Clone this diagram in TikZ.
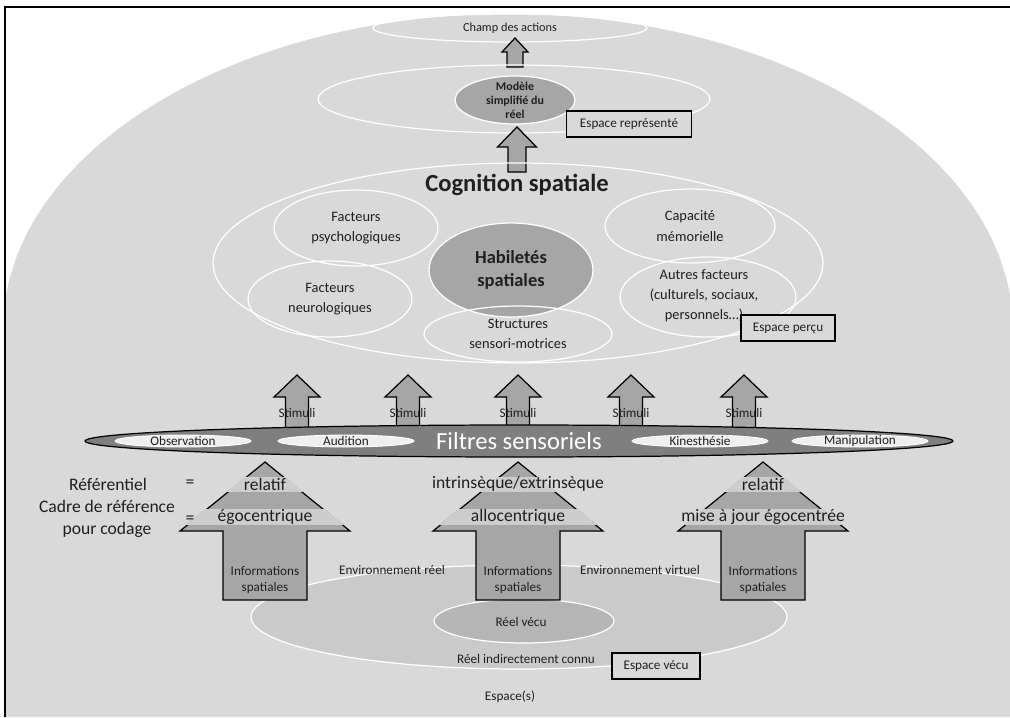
\documentclass[tikz,border=0pt]{standalone}
\usepackage{fontspec}
\setmainfont{Carlito}
\usetikzlibrary{shapes.geometric}
\definecolor{bgg}{HTML}{D9D9D9}
\definecolor{midg}{HTML}{A6A6A6}
\definecolor{darkg}{HTML}{7F7F7F}
\definecolor{bandg}{HTML}{CDCDCD}
\definecolor{ringa}{HTML}{CACACA}
\definecolor{ringb}{HTML}{B5B5B5}
\definecolor{txtc}{HTML}{1F1F1F}
\definecolor{pale}{HTML}{EFEFEF}
\newcommand\myarrow[8]{\coordinate (#1) at (#3,#4);
 \path[#2] (#3,#4) -- ({#3+#7},#5) -- ({#3+#8},#5) -- ({#3+#8},#6) -- ({#3-#8},#6) -- ({#3-#8},#5) -- ({#3-#7},#5) -- cycle;}
\begin{document}
\begin{tikzpicture}[x=0.02cm,y=-0.02cm,
  ell/.style={ellipse, draw=white, line width=0.7pt, inner sep=0pt},
  tx/.style={inner sep=0pt, align=center, text=txtc},
  sm/.style={tx, font=\fontsize{7.5}{9}\selectfont},
  md/.style={tx, font=\fontsize{8.2}{11.5}\selectfont},
  lg/.style={tx, font=\fontsize{10}{12.5}\selectfont},
  boxst/.style={draw=black, line width=0.7pt, fill=bgg, inner sep=0pt, text=txtc, font=\fontsize{7.5}{9}\selectfont},
  arrowst/.style={draw=black, line width=0.7pt, fill=midg}]
\useasboundingbox (0,0) rectangle (1010,717);
% background dome
\begin{scope}
\clip (5,7) rectangle (1010,717);
\fill[bgg] (508,330) ellipse [x radius=505, y radius=316];
\fill[bgg] (5,330) rectangle (1010,717);
\end{scope}
% top
\node[ell, minimum width=5.48cm, minimum height=0.56cm] (champ) at (510,28) {};
\node[sm, font=\fontsize{7}{8}\selectfont] (champT) at (champ.center) {Champ des actions};
\myarrow{a0}{arrowst}{515}{38}{52}{67}{13}{8}
\node[ell, minimum width=7.84cm, minimum height=1.36cm] (repr) at (514,99) {};
\node[ell, fill=midg, minimum width=2.4cm, minimum height=0.96cm] (model) at (515,100) {};
\node[tx, font=\bfseries\fontsize{6.8}{7.9}\selectfont] (modelT) at (model.center) {Modèle\\simplifié du\\réel};
\node[boxst, minimum width=2.5cm, minimum height=0.52cm] (esprep) at (629,124) {Espace représenté};
\myarrow{a1}{arrowst}{517}{127}{147}{172}{19.5}{9}
% cognition
\node[ell, minimum width=12.2cm, minimum height=4.0cm] (cog) at (518,263) {};
\node[tx, font=\bfseries\fontsize{14}{16}\selectfont] (cogT) at (517,185) {Cognition spatiale};
\node[ell, minimum width=3.28cm, minimum height=1.52cm] (psy) at (356,228) {};
\node[md] (psyT) at (psy.center) {Facteurs\\psychologiques};
\node[ell, minimum width=3.4cm, minimum height=1.48cm] (mem) at (690,226) {};
\node[md] (memT) at (mem.center) {Capacité\\mémorielle};
\node[ell, fill=midg, minimum width=3.28cm, minimum height=1.88cm] (hab) at (511,270) {};
\node[tx, font=\bfseries\fontsize{10.5}{13.6}\selectfont] (habT) at (hab.center) {Habiletés\\spatiales};
\node[ell, minimum width=3.28cm, minimum height=1.52cm] (neuro) at (330,299) {};
\node[md] (neuroT) at (neuro.center) {Facteurs\\neurologiques};
\node[ell, minimum width=3.52cm, minimum height=1.6cm] (autres) at (708,297) {};
\node[md] (autresT) at (704,296) {Autres facteurs\\(culturels, sociaux,\\personnels…)};
\node[ell, minimum width=3.76cm, minimum height=1.12cm] (struct) at (518,334) {};
\node[md] (structT) at (struct.center) {Structures\\sensori-motrices};
\node[boxst, minimum width=1.88cm, minimum height=0.52cm] (espper) at (788,328) {Espace perçu};
% stimuli arrows
\foreach \i/\c in {1/297,2/408,3/518,4/631,5/744}{
  \myarrow{s\i}{arrowst}{\c}{375}{397}{432}{23}{11.5}
  \node[sm] (st\i) at (\c,413) {Stimuli};
}
% filter band
\node[ellipse, draw=black, line width=0.7pt, fill=darkg, inner sep=0pt, minimum width=17.36cm, minimum height=0.64cm] (filt) at (519,441) {};
\node[tx, text=white, font=\fontsize{14}{16}\selectfont] (filtT) at (519,441) {Filtres sensoriels};
\foreach \n/\c/\t in {obs/183/Observation, aud/346/Audition, kin/700/Kinesthésie, man/860/Manipulation}{
  \node[ellipse, draw=white, fill=pale, line width=0.5pt, inner sep=0pt, minimum width=2.72cm, minimum height=0.24cm] (\n) at (\c,441) {};
  \node[sm] (\n T) at (\n.center) {\t};
}
% bottom ellipses
\node[ell, fill=ringa, minimum width=10.72cm, minimum height=2.08cm] (indir) at (519,617) {};
\node[ell, fill=ringb, minimum width=3.6cm, minimum height=0.88cm] (vecu) at (524,621) {};
\node[sm] (vecuT) at (521,622) {Réel vécu};
\node[sm] (indirT) at (526,659) {Réel indirectement connu};
\node[sm] (envr) at (392,570) {Environnement réel};
\node[sm] (envv) at (640,570) {Environnement virtuel};
% bottom big arrows
\foreach \i/\c in {1/265,2/518,3/763}{
  \myarrow{b\i}{arrowst}{\c}{462}{531}{600}{85}{42}
  \begin{scope}
    \myarrow{bc\i}{clip}{\c}{460.5}{531.5}{601}{87}{43}
    \fill[bandg] ({\c-95},477) rectangle ({\c+95},492);
    \fill[bandg] ({\c-95},509) rectangle ({\c+95},525);
  \end{scope}
  \node[sm] (inf\i) at (\c,580) {Informations\\spatiales};
}
\node[lg] (r1) at (265,484) {relatif};
\node[lg] (r2) at (265,517) {égocentrique};
\node[lg] (r3) at (518,484) {intrinsèque/extrinsèque};
\node[lg] (r4) at (518,517) {allocentrique};
\node[lg] (r5) at (763,484) {relatif};
\node[lg] (r6) at (763,517) {mise à jour égocentrée};
% left labels
\node[lg] (refl) at (108,484) {Référentiel};
\node[lg] (eq1) at (190,484) {=};
\node[lg] (cadre) at (107,519) {Cadre de référence\\pour codage};
\node[lg] (eq2) at (190,520) {=};
% bottom boxes and labels
\node[boxst, minimum width=1.76cm, minimum height=0.52cm] (espvec) at (656,666) {Espace vécu};
\node[sm] (espaces) at (510,697) {Espace(s)};
% frame
\draw[line width=1.1pt] (5,717) -- (5,7) -- (1010,7);
\end{tikzpicture}
\end{document}
